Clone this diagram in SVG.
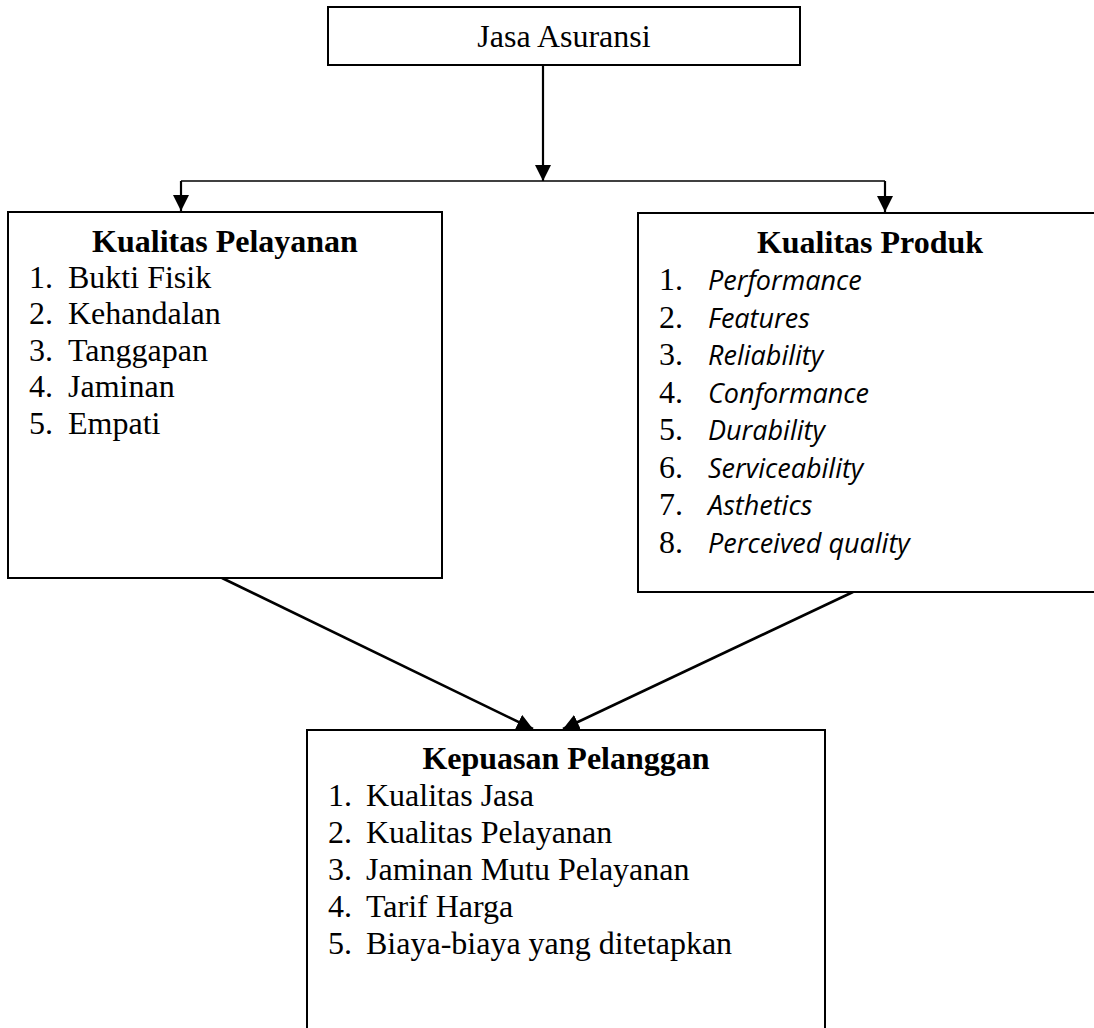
<svg xmlns="http://www.w3.org/2000/svg" width="1094" height="1028" viewBox="0 0 1094 1028">
  <style>
    .box { fill: #ffffff; stroke: #000000; stroke-width: 2; }
    .t { font-family: "Liberation Serif", "Times New Roman", serif; font-size: 32px; fill: #000000; }
    .title { font-family: "Liberation Serif", "Times New Roman", serif; font-size: 32px; font-weight: bold; fill: #000000; }
    .it { font-family: "Open Sans", "Liberation Sans", sans-serif; font-style: italic; font-size: 27px; fill: #000000; }
    .conn { fill: none; stroke: #000000; stroke-width: 2.2; }
  </style>
  <defs>
    <marker id="arrow" markerUnits="userSpaceOnUse" markerWidth="16" markerHeight="16" viewBox="0 0 16 16" refX="16" refY="8" orient="auto">
      <path d="M0,0 L16,8 L0,16 z" fill="#000000"/>
    </marker>
  </defs>
  <rect width="1094" height="1028" fill="#ffffff"/>

  <g id="connectors">
    <line class="conn" x1="543" y1="65" x2="543" y2="181" marker-end="url(#arrow)"/>
    <line class="conn" x1="181" y1="181" x2="885" y2="181" style="stroke-width:1.6"/>
    <line class="conn" x1="181" y1="181" x2="181" y2="211" marker-end="url(#arrow)"/>
    <line class="conn" x1="885" y1="181" x2="885" y2="212" marker-end="url(#arrow)"/>
    <line class="conn" x1="222" y1="578" x2="533" y2="729" marker-end="url(#arrow)" style="stroke-width:2.6"/>
    <line class="conn" x1="853" y1="592" x2="563" y2="729" marker-end="url(#arrow)" style="stroke-width:2.6"/>
  </g>

  <g id="node-jasa-asuransi">
    <rect class="box" x="328" y="7" width="472" height="58"/>
    <text class="t" x="564" y="47" text-anchor="middle">Jasa Asuransi</text>
  </g>

  <g id="node-kualitas-pelayanan">
    <rect class="box" x="8" y="212" width="434" height="366"/>
    <text class="title" x="225" y="252" text-anchor="middle">Kualitas Pelayanan</text>
    <text class="t" x="29" y="288">1.</text><text class="t" x="68" y="288">Bukti Fisik</text>
    <text class="t" x="29" y="324">2.</text><text class="t" x="68" y="324">Kehandalan</text>
    <text class="t" x="29" y="361">3.</text><text class="t" x="68" y="361">Tanggapan</text>
    <text class="t" x="29" y="397">4.</text><text class="t" x="68" y="397">Jaminan</text>
    <text class="t" x="29" y="434">5.</text><text class="t" x="68" y="434">Empati</text>
  </g>

  <g id="node-kualitas-produk">
    <rect class="box" x="638" y="213" width="464" height="379"/>
    <text class="title" x="870" y="253" text-anchor="middle">Kualitas Produk</text>
    <text class="t" x="659" y="290">1.</text><text class="it" x="708" y="290">Performance</text>
    <text class="t" x="659" y="328">2.</text><text class="it" x="708" y="328">Features</text>
    <text class="t" x="659" y="365">3.</text><text class="it" x="708" y="365">Reliability</text>
    <text class="t" x="659" y="403">4.</text><text class="it" x="708" y="403">Conformance</text>
    <text class="t" x="659" y="440">5.</text><text class="it" x="708" y="440">Durability</text>
    <text class="t" x="659" y="478">6.</text><text class="it" x="708" y="478">Serviceability</text>
    <text class="t" x="659" y="515">7.</text><text class="it" x="708" y="515">Asthetics</text>
    <text class="t" x="659" y="553">8.</text><text class="it" x="708" y="553">Perceived quality</text>
  </g>

  <g id="node-kepuasan-pelanggan">
    <rect class="box" x="307" y="730" width="518" height="310"/>
    <text class="title" x="566" y="769" text-anchor="middle">Kepuasan Pelanggan</text>
    <text class="t" x="328" y="806">1.</text><text class="t" x="366" y="806">Kualitas Jasa</text>
    <text class="t" x="328" y="843">2.</text><text class="t" x="366" y="843">Kualitas Pelayanan</text>
    <text class="t" x="328" y="880">3.</text><text class="t" x="366" y="880">Jaminan Mutu Pelayanan</text>
    <text class="t" x="328" y="917">4.</text><text class="t" x="366" y="917">Tarif Harga</text>
    <text class="t" x="328" y="954">5.</text><text class="t" x="366" y="954">Biaya-biaya yang ditetapkan</text>
  </g>
</svg>
